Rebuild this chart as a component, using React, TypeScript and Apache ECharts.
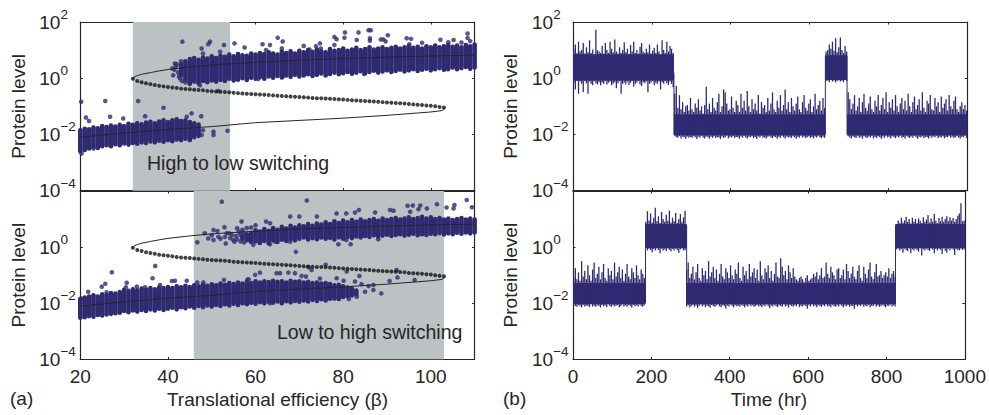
import React, { useEffect, useRef } from "react";
import * as echarts from "echarts";

const INK = "#262626";
const NAVY = "#302a73";
const GRAY = "#bcc1c4";
const FONT = "'Liberation Sans', Arial, sans-serif";

// All protein levels below are log10 values.
const betaTicks = [20, 40, 60, 80, 100];
const timeTicks = [0, 200, 400, 600, 800, 1000];
const protTicks = ["10^2", "10^0", "10^-2", "10^-4"];

const upperBranchBeta = [32, 32.4, 33, 34, 36, 38, 40, 45, 50, 60, 70, 80, 90, 100, 110];
const upperBranchLog = [0, 0.05, 0.09, 0.14, 0.2, 0.26, 0.31, 0.4, 0.47, 0.57, 0.64, 0.7, 0.75, 0.79, 0.82];
const lowerBranchBeta = [20, 30, 40, 50, 60, 70, 80, 90, 100, 102.6, 103.2];
const lowerBranchLog = [-2.1, -1.95, -1.82, -1.72, -1.58, -1.5, -1.42, -1.32, -1.2, -1.15, -1.08];
const unstableBeta = [32, 33, 34, 35, 36, 37, 38, 39, 40, 41, 42, 43, 44, 45, 46, 47, 48, 49, 50, 51, 52, 53, 54, 55, 56, 57, 58, 59, 60, 61, 62, 63, 64, 65, 66, 67, 68, 69, 70, 71, 72, 73, 74, 75, 76, 77, 78, 79, 80, 81, 82, 83, 84, 85, 86, 87, 88, 89, 90, 91, 92, 93, 94, 95, 96, 97, 98, 99, 100, 101, 102, 103];
const unstableLog = [-0.02, -0.1, -0.14, -0.18, -0.21, -0.24, -0.27, -0.29, -0.31, -0.33, -0.35, -0.37, -0.38, -0.39, -0.41, -0.42, -0.43, -0.45, -0.46, -0.47, -0.48, -0.49, -0.5, -0.52, -0.53, -0.54, -0.55, -0.56, -0.57, -0.58, -0.59, -0.6, -0.61, -0.62, -0.63, -0.64, -0.65, -0.66, -0.67, -0.68, -0.69, -0.7, -0.71, -0.71, -0.72, -0.73, -0.74, -0.75, -0.76, -0.77, -0.78, -0.79, -0.8, -0.81, -0.82, -0.83, -0.84, -0.85, -0.86, -0.87, -0.88, -0.89, -0.9, -0.92, -0.93, -0.94, -0.95, -0.97, -0.98, -1.0, -1.02, -1.04];

// Dense clouds: one [upper, lower] envelope per unit of beta.
const topHighStart = 43;
const topHighUpper = [0.5, 0.6, 0.68, 0.72, 0.66, 0.74, 0.7, 0.78, 0.72, 0.8, 0.76, 0.84, 0.78, 0.86, 0.82, 0.8, 0.88, 0.84, 0.9, 0.86, 0.92, 0.88, 0.84, 0.94, 0.9, 0.96, 0.88, 0.98, 0.92, 1.0, 0.94, 1.02, 0.96, 0.92, 1.04, 0.98, 1.0, 1.06, 0.98, 1.02, 1.08, 1.0, 1.04, 1.1, 1.02, 1.06, 1.1, 1.04, 1.08, 1.12, 1.06, 1.1, 1.14, 1.08, 1.12, 1.06, 1.14, 1.1, 1.16, 1.1, 1.14, 1.18, 1.12, 1.16, 1.1, 1.18, 1.14, 1.2];
const topHighLower = [0.1, -0.05, -0.2, -0.12, -0.18, -0.1, -0.14, -0.08, -0.12, -0.06, -0.1, -0.02, -0.08, -0.05, 0, -0.06, 0.02, -0.02, 0.04, -0.02, 0.06, 0.02, 0.08, 0.03, 0.1, 0.05, 0.12, 0.06, 0.1, 0.14, 0.08, 0.12, 0.17, 0.1, 0.15, 0.2, 0.14, 0.18, 0.22, 0.16, 0.2, 0.25, 0.18, 0.22, 0.27, 0.2, 0.24, 0.28, 0.22, 0.26, 0.3, 0.24, 0.28, 0.32, 0.26, 0.3, 0.34, 0.28, 0.32, 0.36, 0.3, 0.34, 0.38, 0.32, 0.36, 0.4, 0.34, 0.38];
const topLowStart = 20;
const topLowUpper = [-1.85, -1.8, -1.82, -1.75, -1.78, -1.7, -1.74, -1.68, -1.72, -1.66, -1.7, -1.62, -1.66, -1.6, -1.64, -1.58, -1.55, -1.6, -1.54, -1.5, -1.56, -1.5, -1.46, -1.52, -1.5, -1.56, -1.6, -1.65];
const topLowLower = [-2.6, -2.55, -2.5, -2.45, -2.48, -2.42, -2.38, -2.42, -2.35, -2.38, -2.32, -2.36, -2.3, -2.33, -2.28, -2.3, -2.25, -2.28, -2.22, -2.26, -2.2, -2.24, -2.18, -2.2, -2.15, -2.2, -2.1, -2.05];
const bottomHighStart = 57;
const bottomHighUpper = [0.4, 0.46, 0.5, 0.6, 0.55, 0.64, 0.58, 0.68, 0.62, 0.72, 0.66, 0.76, 0.7, 0.78, 0.74, 0.82, 0.76, 0.84, 0.8, 0.88, 0.82, 0.92, 0.86, 0.95, 0.88, 0.96, 0.9, 0.98, 0.92, 0.96, 1.0, 0.94, 1.02, 0.96, 1.0, 1.04, 0.98, 1.02, 1.06, 1.0, 1.04, 1.08, 1.02, 1.06, 1.0, 1.04, 0.98, 1.02, 0.96, 1.0, 1.04, 0.98, 1.02, 0.98];
const bottomHighLower = [0.3, 0.25, 0.18, 0.2, 0.15, 0.22, 0.14, 0.24, 0.18, 0.26, 0.22, 0.28, 0.24, 0.3, 0.34, 0.27, 0.32, 0.28, 0.34, 0.3, 0.33, 0.27, 0.34, 0.3, 0.36, 0.32, 0.38, 0.34, 0.4, 0.36, 0.42, 0.38, 0.41, 0.44, 0.4, 0.43, 0.46, 0.41, 0.44, 0.48, 0.42, 0.46, 0.43, 0.48, 0.46, 0.5, 0.45, 0.49, 0.46, 0.51, 0.48, 0.52, 0.49, 0.52];
const bottomLowStart = 20;
const bottomLowUpper = [-1.85, -1.8, -1.76, -1.72, -1.76, -1.68, -1.7, -1.64, -1.66, -1.6, -1.52, -1.56, -1.5, -1.54, -1.48, -1.52, -1.46, -1.5, -1.44, -1.46, -1.42, -1.46, -1.4, -1.43, -1.38, -1.42, -1.36, -1.4, -1.34, -1.38, -1.33, -1.36, -1.3, -1.34, -1.28, -1.32, -1.26, -1.3, -1.25, -1.28, -1.22, -1.26, -1.22, -1.25, -1.2, -1.24, -1.22, -1.26, -1.2, -1.24, -1.22, -1.26, -1.24, -1.28, -1.26, -1.3, -1.28, -1.32, -1.36, -1.34, -1.4, -1.44, -1.48, -1.55];
const bottomLowLower = [-2.52, -2.5, -2.46, -2.48, -2.42, -2.44, -2.4, -2.38, -2.36, -2.34, -2.28, -2.32, -2.26, -2.3, -2.24, -2.28, -2.22, -2.26, -2.2, -2.24, -2.2, -2.16, -2.22, -2.14, -2.18, -2.12, -2.16, -2.1, -2.14, -2.08, -2.12, -2.06, -2.1, -2.04, -2.08, -2.02, -2.06, -2, -2.04, -1.98, -2.02, -1.96, -2, -1.95, -1.98, -1.94, -2, -1.93, -1.97, -1.92, -1.95, -1.9, -1.94, -1.88, -1.92, -1.86, -1.9, -1.84, -1.82, -1.85, -1.78, -1.75, -1.72, -1.68];

// Separate dots: [beta, log10 level]
const topOutliers = [[41.5, 0.3], [42, 0.5], [42.3, 0.2], [42.5, 0.05], [41.8, 0.42], [43, 0.6], [43.2, -0.1], [44, -0.15], [43.3, 1.3], [49.6, 1.3], [49.2, 1.21], [52.8, 1.18], [55.2, 1.24], [47.7, 1.06], [48, 0.88], [51.9, 0.94], [41.6, 0.52], [41, 0.35], [41.2, 0.11], [42.8, -0.01], [45, -0.13], [47.3, -0.25], [51.5, -0.45], [20.2, -0.84], [25.7, -0.81], [33.2, -0.81], [39, -1.05], [34.8, -1.35], [21.3, -1.4], [22, -1.52], [29.8, -1.43], [26.8, -1.37], [45.4, -1.25], [47.6, -1.35], [44.3, -1.37], [42.8, -1.55], [20.3, -2.68], [23, -2.5], [53.6, -1.87], [50.4, -1.9], [50.4, -2.02], [48, -1.85], [47.7, -2.02], [46.5, -1.96], [65.06, 1.44], [66.2, 1.31], [61.6, 1.21], [63.3, 1.18], [62.4, 1], [66, 1.06], [57.5, 1.09], [71, 1.15], [74.7, 1.24], [73.8, 1.14], [72.3, 1.02], [78, 1.47], [78.5, 1.39], [80.4, 1.63], [80.3, 1.44], [83.5, 1.63], [83.1, 1.36], [85.8, 1.71], [86.3, 1.71], [86.1, 1.42], [86.1, 1.33], [88.6, 1.38], [89.2, 1.38], [89.7, 1.31], [90.2, 1.53], [94.5, 1.42], [95.5, 1.4], [95.1, 1.21], [98, 1.26], [102.2, 1.37], [104, 1.28], [105.2, 1.36], [107, 1.27], [108.4, 1.59], [108.4, 1.43], [109, 1.32], [78, 1.18], [74.9, 1.06], [60.6, -0.03], [66.2, 0.05], [84.8, 0.15], [103.9, 0.32], [81.3, 0.26]];
const bottomOutliers = [[50, 0.42], [52, 0.3], [53, 0.36], [54.2, 0.32], [55.5, 0.4], [55.8, 0.28], [56.2, 0.55], [56.6, 0.2], [57, 0.62], [57.4, 0.16], [58, 0.68], [59, 0.7], [59.5, 0.08], [60, 0.78], [52.3, 1.62], [56.8, 0.91], [52.9, 0.71], [50.4, 0.61], [51.3, 0.57], [48.4, 0.49], [46.7, 0.17], [49.2, 0.31], [50.4, 0.25], [51.5, 0.37], [53.4, 0.49], [53.2, 0.13], [54.9, 0.25], [55.8, 0.67], [54, 0.49], [54.6, 0.43], [56.5, 0.43], [57.2, 0.52], [58, 0.43], [58.4, 0.25], [55.2, 0.19], [27.2, -0.9], [37.1, -0.67], [36.5, -1.11], [25.7, -1.31], [24.9, -1.41], [30.6, -1.27], [30.4, -1.43], [32.9, -1.41], [26, -1.61], [21.8, -1.59], [20.2, -1.83], [40.9, -1.21], [41.6, -1.2], [44.3, -1.2], [46.7, -1.26], [48.1, -1.26], [52.8, -1.17], [58.1, -1.17], [38.2, -1.35], [34.8, -1.43], [71.7, 1.66], [62.4, 0.91], [63.3, 0.85], [67.9, 1.09], [70, 1.09], [74, 1.09], [78.5, 1.2], [80.7, 1.2], [82.7, 1.23], [83.6, 1.32], [87.3, 1.23], [90.7, 1.32], [91.5, 1.3], [94.7, 1.47], [95.9, 1.48], [97.6, 1.48], [101.4, 1.53], [103.6, 1.41], [105.4, 1.5], [105.2, 1.38], [108.2, 1.68], [109.4, 1.42], [95.3, 1.26], [97.2, 1.35], [99.1, 1.38], [61, 0.16], [63.3, 0.1], [64.5, 0.19], [69.2, -0.17], [67.9, 0.19], [78.9, 0.1], [80.7, 0.25], [81.7, 0.1], [88, 0.28], [76, -0.63], [72.1, -0.72], [72.8, -0.82], [80.8, -0.87], [92.2, -0.82], [64.8, -0.93], [65.6, -0.93], [67.5, -0.91], [69, -0.93], [61, -0.91], [59.9, -0.99], [58.4, -1.15], [70.5, -1.03], [71.5, -1.05], [74.7, -1.12], [78.5, -1.11], [80.1, -1.2], [83.7, -1.03], [82.7, -1.23], [84.2, -1.32], [86.9, -1.35], [85.8, -1.39], [90.6, -1.21], [92.4, -1.08], [96.3, -1.17], [88.7, -1.65], [86.9, -1.53], [85, -1.59], [83.1, -1.77], [81.3, -1.85], [78, -1.83], [63.3, -2]];

// Time traces: one [high, low] excursion per 4 hr sample.
const traceStep = 4;
const topTraceHigh = [
  1.05, 1.2, 0.9, 1.3, 0.95, 1, 1.25, 0.88, 1.1, 0.92, 1.35, 0.9, 1.02, 0.85, 1.72, 1, 0.95, 0.9, 1.15, 0.88,
  1.25, 1, 0.9, 1.3, 1.05, 0.92, 1.38, 0.95, 0.88, 1.1, 0.9, 1, 1.28, 0.92, 1.05, 0.86, 1.18, 0.95, 1.3, 0.9,
  1, 0.88, 1.12, 1.25, 0.95, 0.9, 1.05, 0.92, 1.2, 0.88, 0.98, 1.08, 0.9, 1.2, 0.95, 0.85, 1.35, 1, 0.9, 1.3,
  0.95, 1.15, 1.05, 0.9,
  -0.55, -0.28, -1.05, -0.6, -1.1, -0.85, -1.2, -1, -0.95, -1.15, -0.7, -1.1, -1.2, -0.9, -1.05, -0.75, -1.15, -1, -1.25, -0.95,
  -0.3, -1.1, -0.9, -1.2, -0.7, -1.05, -1.15, -0.85, -0.55, -1.2, -1, -0.4, -0.5, -0.9, -1.15, -1.1, -0.65, -1.05, -1.2, -0.8,
  -0.95, -1.2, -0.55, -1.05, -0.8, -1.15, -0.45, -1, -1.2, -0.75, -1.1, -0.9, -1.15, -0.6, -1.25, -0.85, -1.05, -0.95, -1.2, -0.7,
  -1.15, -0.9, -0.5, -1.1, -1.2, -0.8, -1.05, -0.6, -1.15, -0.95, -0.4, -1.1, -0.85, -1.2, -0.7, -1, -1.15, -0.9, -0.65, -1.1,
  -1.2, -0.85, -0.6, -1.05, -1.15, -0.9, -0.75, -1.2, -1, -0.55, -1.1, -0.95, -0.8, -1.15, -0.7, -1.05,
  0.95, 1, 1.2, 1.05, 1.3, 0.98, 1.42, 0.92, 1.1, 1.45, 1, 0.9, 1.15, 0.95,
  -0.5, -0.75, -1.1, -0.9, -0.6, -1.15, -1, -0.7, -1.2, -0.85, -0.55, -1.05, -1.15, -0.9, -0.65, -1.1, -1.2, -0.8, -1, -0.6,
  -1.15, -0.95, -0.7, -1.1, -0.5, -1.2, -0.85, -1.05, -0.75, -1.15, -0.6, -1, -1.2, -0.9, -0.7, -1.1, -0.8, -1.15, -0.55, -1,
  -1.2, -0.85, -0.65, -1.1, -0.95, -0.75, -1.15, -0.5, -1.05, -1.2, -0.8, -0.9, -0.6, -1.1, -1.15, -0.7, -1, -0.85, -1.2, -0.65,
  -1.05, -0.9, -0.75, -1.15, -0.6, -1, -1.1, -0.8, -0.65, -1.1, -1.2, -1, -0.85, -1.1, -0.95, -1.15
];
const topTraceLow = [
  -0.15, -0.4, -0.1, -0.55, -0.12, -0.2, -0.5, -0.1, -0.18, -0.55, -0.12, -0.2, -0.25, -0.1, -0.18, -0.22, -0.14, -0.25, -0.15, -0.2,
  -0.1, -0.22, -0.16, -0.12, -0.25, -0.2, -0.14, -0.35, -0.18, -0.1, -0.55, -0.2, -0.15, -0.22, -0.12, -0.24, -0.16, -0.1, -0.3, -0.2,
  -0.15, -0.1, -0.22, -0.28, -0.14, -0.18, -0.12, -0.5, -0.2, -0.15, -0.1, -0.25, -0.16, -0.2, -0.12, -0.4, -0.14, -0.2, -0.1, -0.18,
  -0.24, -0.12, -0.2, -0.32,
  -2.05, -2.1, -2.12, -2.06, -2.14, -2.08, -2.1, -2.15, -2.07, -2.12, -2.09, -2.13, -2.06, -2.1, -2.16, -2.08, -2.12, -2.05, -2.11, -2.14,
  -2.07, -2.1, -2.15, -2.08, -2.12, -2.06, -2.13, -2.09, -2.11, -2.16, -2.07, -2.12, -2.1, -2.05, -2.14, -2.08, -2.11, -2.06, -2.13, -2.09,
  -2.1, -2.15, -2.07, -2.12, -2.05, -2.11, -2.14, -2.08, -2.1, -2.06, -2.13, -2.09, -2.16, -2.07, -2.11, -2.05, -2.12, -2.1, -2.14, -2.08,
  -2.06, -2.11, -2.13, -2.07, -2.1, -2.15, -2.08, -2.12, -2.05, -2.1, -2.14, -2.07, -2.11, -2.09, -2.13, -2.06, -2.1, -2.15, -2.08, -2.12,
  -2.05, -2.11, -2.07, -2.13, -2.1, -2.06, -2.12, -2.09, -2.14, -2.07, -2.11, -2.05, -2.1, -2.13, -2.08, -2.12,
  -0.1, -0.08, -0.14, -0.06, -0.12, -0.08, -0.15, -0.1, -0.07, -0.12, -0.09, -0.14, -0.06, -0.1,
  -2.06, -2.11, -2.14, -2.07, -2.1, -2.13, -2.05, -2.12, -2.08, -2.15, -2.06, -2.1, -2.13, -2.07, -2.11, -2.05, -2.14, -2.09, -2.12, -2.06,
  -2.1, -2.15, -2.07, -2.12, -2.05, -2.11, -2.08, -2.14, -2.06, -2.1, -2.13, -2.07, -2.11, -2.05, -2.12, -2.09, -2.14, -2.06, -2.1, -2.13,
  -2.07, -2.12, -2.05, -2.1, -2.15, -2.08, -2.11, -2.06, -2.13, -2.09, -2.1, -2.14, -2.06, -2.12, -2.07, -2.1, -2.05, -2.13, -2.08, -2.11,
  -2.06, -2.14, -2.09, -2.1, -2.05, -2.12, -2.07, -2.13, -2.1, -2.06, -2.11, -2.14, -2.08, -2.1, -2.05, -2.12
];
const bottomTraceHigh = [
  -1.1, -0.75, -1.15, -0.9, -1.2, -0.5, -1.05, -0.85, -1.15, -0.65, -1, -1.2, -0.8, -0.55, -1.1, -0.95, -0.7, -1.15, -0.9, -0.6,
  -1.1, -1.2, -0.75, -1, -0.85, -1.15, -0.55, -1.05, -0.9, -0.7, -1.1, -0.8, -1.2, -0.95, -0.6, -1.05, -1.15, -0.75, -0.9, -1.1,
  -0.65, -1, -1.15, -0.8, -0.95, -1.1,
  0.9, 1.28, 0.95, 1.2, 0.88, 1.05, 1.4, 0.92, 1.1, 0.86, 1.25, 1, 0.9, 1.15, 0.94, 1.3, 0.88, 1.05, 0.92, 1.22, 0.86, 1, 1.18, 0.9, 1.06, 1.3,
  -0.8, -0.55, -1.1, -0.95, -0.7, -1.15, -0.9, -0.6, -1.1, -1.2, -0.75, -1, -0.85, -1.15, -0.5, -1.05, -0.9, -0.7, -1.1, -0.8,
  -1.2, -0.95, -0.6, -1.05, -1.15, -0.75, -0.9, -1.1, -0.65, -1, -1.15, -0.8, -0.95, -0.55, -1.1, -1.2, -0.7, -1, -0.85, -1.15,
  -0.6, -1.05, -0.9, -0.75, -1.1, -0.8, -1.2, -0.5, -1, -1.15, -0.75, -0.9, -0.65, -1.1, -0.85, -1.2, -0.95, -0.55, -1.05, -1.1,
  -0.4, -0.7, -1, -0.85, -1.15, -0.65, -0.9, -1.1, -0.75, -1.05, -1.15, -1.2, -1.1, -1.05, -1.15, -1.25, -1.1, -1, -1.2, -1.15,
  -1.1, -0.95, -1.05, -0.9, -1.15, -1, -0.75, -1.1, -1.05, -0.55, -0.95, -1.1, -0.7, -0.9, -1, -1.15, -0.8, -0.75, -1.1, -1,
  -0.8, -1.15, -0.6, -0.85, -1.1, -0.95, -0.7, -1.05, -1.15, -0.85, -0.65, -1.1, -1.2, -0.7, -0.95, -1.1, -0.8, -0.55, -1.05, -1.15,
  -0.9, -0.6, -1.05, -1, -0.85, -1.1, -1, -0.9, -1.05, -0.75, -1.1, -0.95, -0.85, -1.05,
  0.8, 0.95, 0.85, 1.05, 0.88, 0.95, 1.08, 0.9, 1, 0.84, 1.05, 0.9, 1, 0.86, 1.02, 0.94, 0.86, 1.06, 0.9, 0.98, 1.14, 0.88, 1.02, 0.9, 1.18, 0.94, 0.86, 1.04, 0.92, 1.08, 0.9, 1.0, 1.1, 0.92, 1.06, 0.95, 1.04, 0.9, 1.0, 1.12, 1.2, 1.56, 0.92, 0.95
];
const bottomTraceLow = [
  -2.05, -2.1, -2.13, -2.07, -2.11, -2.15, -2.06, -2.12, -2.08, -2.1, -2.14, -2.05, -2.12, -2.09, -2.13, -2.07, -2.1, -2.15, -2.06, -2.11,
  -2.08, -2.14, -2.05, -2.1, -2.13, -2.07, -2.12, -2.09, -2.06, -2.14, -2.1, -2.05, -2.12, -2.08, -2.13, -2.07, -2.1, -2.15, -2.06, -2.11,
  -2.08, -2.12, -2.05, -2.1, -2.13, -2.07,
  -0.05, -0.12, -0.06, -0.1, -0.18, -0.07, -0.12, -0.05, -0.1, -0.22, -0.06, -0.12, -0.08, -0.14, -0.05, -0.1, -0.16, -0.07, -0.12, -0.06, -0.1, -0.2, -0.08, -0.05, -0.12, -0.1,
  -2.12, -2.07, -2.15, -2.1, -2.06, -2.13, -2.08, -2.18, -2.1, -2.05, -2.12, -2.07, -2.14, -2.09, -2.11, -2.16, -2.06, -2.1, -2.13, -2.08,
  -2.05, -2.11, -2.14, -2.07, -2.1, -2.2, -2.08, -2.12, -2.05, -2.1, -2.14, -2.07, -2.11, -2.09, -2.13, -2.06, -2.1, -2.15, -2.08, -2.12,
  -2.05, -2.11, -2.07, -2.13, -2.1, -2.06, -2.12, -2.09, -2.14, -2.07, -2.11, -2.05, -2.1, -2.18, -2.08, -2.12, -2.06, -2.11, -2.14, -2.07,
  -2.1, -2.13, -2.05, -2.12, -2.08, -2.15, -2.06, -2.1, -2.13, -2.07, -2.11, -2.05, -2.14, -2.09, -2.12, -2.06, -2.1, -2.2, -2.07, -2.12,
  -2.05, -2.11, -2.08, -2.14, -2.06, -2.1, -2.13, -2.07, -2.11, -2.05, -2.12, -2.09, -2.14, -2.06, -2.1, -2.13, -2.07, -2.12, -2.05, -2.1,
  -2.15, -2.08, -2.11, -2.06, -2.13, -2.09, -2.1, -2.2, -2.06, -2.12, -2.07, -2.1, -2.05, -2.13, -2.08, -2.11, -2.06, -2.14, -2.09, -2.1,
  -2.05, -2.12, -2.07, -2.13, -2.1, -2.06, -2.11, -2.14, -2.08, -2.1, -2.05, -2.12, -2.08, -2.12,
  -0.08, -0.05, -0.12, -0.07, -0.2, -0.06, -0.1, -0.14, -0.05, -0.22, -0.08, -0.12, -0.06, -0.1, -0.16, -0.05, -0.3, -0.08, -0.12, -0.06, -0.1, -0.14, -0.05, -0.09, -0.22, -0.07, -0.12, -0.06, -0.1, -0.25, -0.05, -0.13, -0.2, -0.06, -0.11, -0.05, -0.09, -0.28, -0.07, -0.1, -0.12, -0.06, -0.1, -0.08
];
// Solid part of each state: [start hr, end hr, lower log10, upper log10]
const topCore = [[0, 256, -0.08, 0.85], [256, 640, -2.03, -1.28], [640, 695, -0.06, 0.82], [695, 1000, -2.03, -1.28]];
const bottomCore = [[0, 185, -2.03, -1.28], [185, 290, -0.03, 0.82], [290, 823, -2.03, -1.28], [823, 1000, -0.03, 0.82]];
// Switches between states: [hr, lower log10, upper log10]
const topSwitches = [[256, -2, 0.2], [640, -2, 0.8], [695, -2, 0.8]];
const bottomSwitches = [[185, -2, 0.8], [290, -2, 0.8], [823, -2, 0.8]];

const grayTop: [number, number] = [32, 54.2];
const grayBottom: [number, number] = [45.9, 103];

const pow = (v: number) => Math.pow(10, v);
const toPoints = (xs: number[], ys: number[]) => xs.map((x, i) => [x, pow(ys[i])]);
const cloud = (start: number, up: number[], lo: number[]) => up.map((u, i) => [start + i, pow(lo[i]), pow(u)]);
const trace = (hi: number[], lo: number[]) => hi.map((h, i) => [i * traceStep + traceStep / 2, pow(lo[i]), pow(h)]);
const dots = (pts: number[][]) => pts.map(([x, y]) => [x, pow(y)]);

const spans = (width: number, cap: string) => (_: any, api: any) => {
  const a = api.coord([api.value(0), api.value(1)]);
  const b = api.coord([api.value(0), api.value(2)]);
  return { type: "line", shape: { x1: a[0], y1: a[1], x2: b[0], y2: b[1] }, style: { stroke: NAVY, lineWidth: width, lineCap: cap } };
};
const blocks = (_: any, api: any) => {
  const a = api.coord([api.value(0), pow(api.value(3))]);
  const b = api.coord([api.value(1), pow(api.value(2))]);
  return { type: "rect", shape: { x: a[0], y: a[1], width: b[0] - a[0], height: b[1] - a[1] }, style: { fill: NAVY } };
};

const parseTick = (s: string) => s.split("^")[1];

export default function App() {
  const ref = useRef<HTMLDivElement>(null);
  useEffect(() => {
    document.body.style.margin = "0";
    const chart = echarts.init(ref.current!, undefined, { renderer: "svg" });

    const L = 80.3, R = 573, W = 394.3;
    const panels = [
      { left: L, top: 22, height: 168.7 },
      { left: L, top: 191, height: 168.3 },
      { left: R, top: 22, height: 168.7 },
      { left: R, top: 191, height: 168.3 },
    ];
    const grid = panels.map((p) => ({ left: p.left, top: p.top, width: W, height: p.height, show: false }));
    const line = { show: true, onZero: false, lineStyle: { color: INK, width: 1.2 } };
    const tick = { show: true, inside: true, length: 2.5, lineStyle: { color: INK, width: 1 } };
    const xAxis: any[] = [];
    const yAxis: any[] = [];
    panels.forEach((_, i) => {
      const isBeta = i < 2;
      const isBottom = i % 2 === 1;
      const ticks = isBeta ? betaTicks : timeTicks;
      const xr = { min: isBeta ? 20 : 0, max: isBeta ? 110 : 1000, interval: isBeta ? 20 : 200 };
      xAxis.push({
        type: "value", gridIndex: i, ...xr, position: "bottom", axisLine: line, axisTick: tick, splitLine: { show: false },
        axisLabel: {
          show: isBottom, margin: 8, color: INK, fontSize: 19, fontFamily: FONT,
          formatter: (v: number) => (ticks.includes(v) ? String(v) : ""),
          showMinLabel: true, showMaxLabel: true,
        },
        name: isBottom ? (isBeta ? "Translational efficiency (β)" : "Time (hr)") : "",
        nameLocation: "middle", nameGap: 31, nameTextStyle: { color: INK, fontSize: 19, fontFamily: FONT },
      });
      xAxis.push({ type: "value", gridIndex: i, ...xr, position: "top", axisLine: line, axisTick: tick, axisLabel: { show: false }, splitLine: { show: false } });
      const yr = { type: "log", logBase: 100, min: 1e-4, max: 100, gridIndex: i };
      yAxis.push({
        ...yr, position: "left", axisLine: line, axisTick: tick, splitLine: { show: false }, minorTick: { show: false },
        axisLabel: {
          show: true, margin: 41, align: "left", color: INK, fontSize: 19, fontFamily: FONT,
          showMinLabel: true, showMaxLabel: true,
          formatter: (v: number) => {
            const e = Math.round(Math.log10(v));
            const label = protTicks.find((t) => Number(parseTick(t)) === e);
            if (!label || (isBottom && e === 2)) return "";
            return `{a|10}{b|${e < 0 ? "\u2212" + -e : e}}`;
          },
          rich: {
            a: { fontSize: 19, color: INK, fontFamily: FONT, height: 30, verticalAlign: "middle" },
            b: { fontSize: 13.5, color: INK, fontFamily: FONT, height: 15, verticalAlign: "top" },
          },
        },
        name: "Protein level", nameLocation: "middle", nameRotate: 90, nameGap: i < 2 ? 52 : 53,
        nameTextStyle: { color: INK, fontSize: 19, fontFamily: FONT },
      });
      yAxis.push({ ...yr, position: "right", axisLine: line, axisTick: tick, axisLabel: { show: false }, splitLine: { show: false }, minorTick: { show: false } });
    });

    const axisIdx = (i: number) => ({ xAxisIndex: i * 2, yAxisIndex: i * 2 });
    const curveSeries = (i: number) => [
      { type: "line", ...axisIdx(i), data: toPoints(upperBranchBeta, upperBranchLog), showSymbol: false, smooth: false, lineStyle: { color: INK, width: 1 }, z: 6, silent: true },
      { type: "line", ...axisIdx(i), data: toPoints(lowerBranchBeta, lowerBranchLog), showSymbol: false, smooth: false, lineStyle: { color: INK, width: 1 }, z: 6, silent: true },
      { type: "scatter", ...axisIdx(i), data: toPoints(unstableBeta, unstableLog), symbolSize: 4, itemStyle: { color: "#111" }, z: 7, silent: true },
    ];
    const cloudSeries = (i: number, data: number[][]) => ({
      type: "custom", ...axisIdx(i), data, renderItem: spans(4.6, "round"), encode: { x: 0, y: [1, 2] }, clip: false, z: 4, silent: true,
    });
    const grayArea = (i: number, range: [number, number]) => ({
      type: "line", ...axisIdx(i), data: [], z: 1, silent: true,
      markArea: { silent: true, itemStyle: { color: GRAY, opacity: 1 }, data: [[{ xAxis: range[0] }, { xAxis: range[1] }]] },
    });
    const outlier = (i: number, pts: number[][]) => ({
      type: "scatter", ...axisIdx(i), data: dots(pts), symbolSize: 4.6, itemStyle: { color: NAVY }, z: 4, silent: true, clip: false,
    });
    const traceSeries = (i: number, data: number[][], width: number) => ({
      type: "custom", ...axisIdx(i), data, renderItem: spans(width, "butt"), encode: { x: 0, y: [1, 2] }, clip: false, z: 4, silent: true,
    });
    const coreSeries = (i: number, data: number[][]) => ({
      type: "custom", ...axisIdx(i), data, renderItem: blocks, encode: { x: [0, 1] }, clip: false, z: 4, silent: true,
    });
    const switchData = (rows: number[][]) => rows.map(([t, lo, hi]) => [t, pow(lo), pow(hi)]);

    const series: any[] = [
      grayArea(0, grayTop),
      cloudSeries(0, cloud(topHighStart, topHighUpper, topHighLower)),
      cloudSeries(0, cloud(topLowStart, topLowUpper, topLowLower)),
      outlier(0, topOutliers),
      ...curveSeries(0),
      grayArea(1, grayBottom),
      cloudSeries(1, cloud(bottomHighStart, bottomHighUpper, bottomHighLower)),
      cloudSeries(1, cloud(bottomLowStart, bottomLowUpper, bottomLowLower)),
      outlier(1, bottomOutliers),
      ...curveSeries(1),
      coreSeries(2, topCore),
      traceSeries(2, trace(topTraceHigh, topTraceLow), 1.3),
      traceSeries(2, switchData(topSwitches), 1),
      coreSeries(3, bottomCore),
      traceSeries(3, trace(bottomTraceHigh, bottomTraceLow), 1.3),
      traceSeries(3, switchData(bottomSwitches), 1),
    ];

    const label = (text: string, x: number, y: number, size = 19) => ({
      type: "text", x, y, z: 20, style: { text, fill: INK, fontSize: size, fontFamily: FONT, verticalAlign: "middle" },
    });

    chart.setOption({
      animation: false,
      grid, xAxis, yAxis, series,
      graphic: [
        label("High to low switching", 147, 163, 19.5),
        label("Low to high switching", 277, 332, 19.5),
        label("(a)", 10, 398),
        label("(b)", 503, 398),
      ],
    });
    return () => chart.dispose();
  }, []);
  return <div ref={ref} style={{ position: "fixed", left: 0, top: 0, width: 989, height: 415, background: "#fff" }} />;
}
